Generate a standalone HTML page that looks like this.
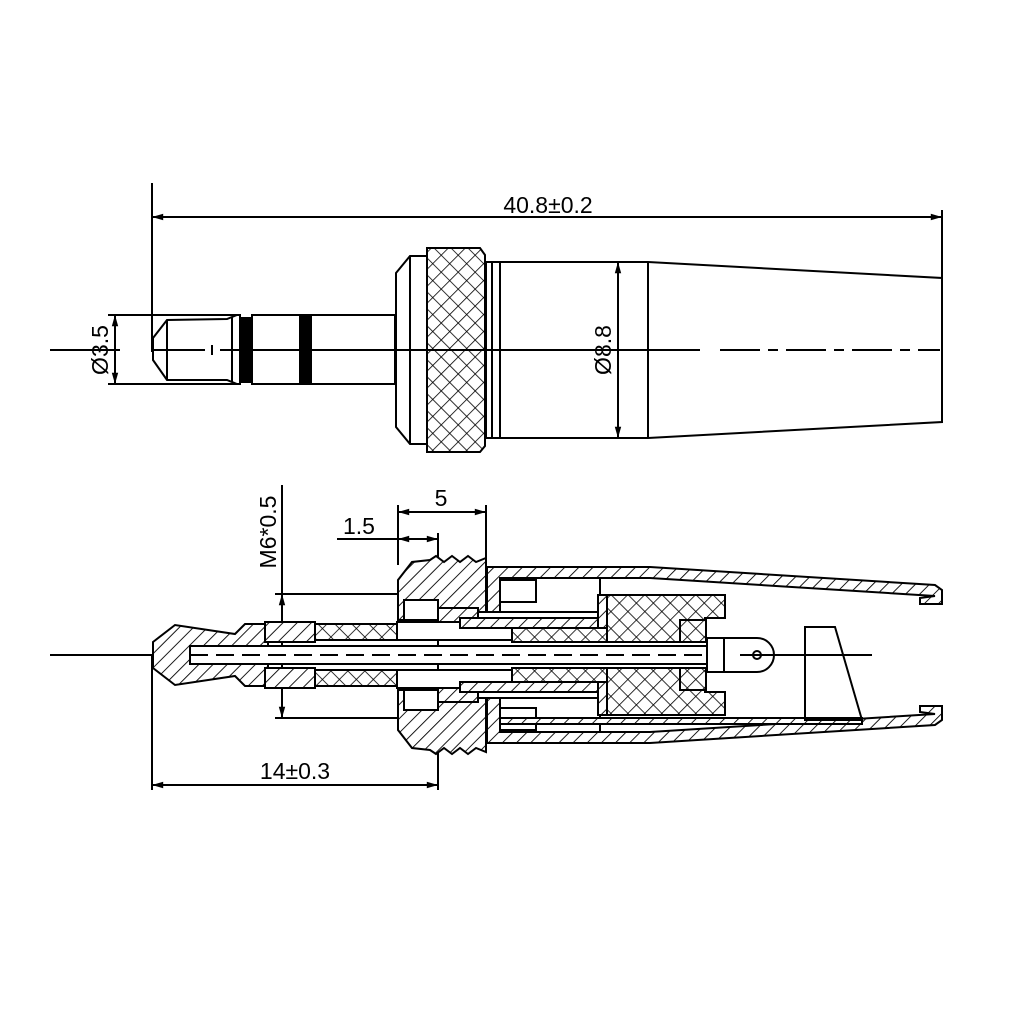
<!DOCTYPE html>
<html><head><meta charset="utf-8"><style>html,body{margin:0;padding:0;background:#fff}svg{display:block}</style></head>
<body>
<svg width="1024" height="1024" viewBox="0 0 1024 1024" xmlns="http://www.w3.org/2000/svg" font-family="Liberation Sans, sans-serif">
<defs>
<pattern id="h" width="10" height="10" patternUnits="userSpaceOnUse" patternTransform="rotate(45)"><rect width="10" height="10" fill="#fff"/><line x1="0" y1="0" x2="0" y2="10" stroke="#000" stroke-width="1.8"/></pattern>
<pattern id="x" width="12" height="12" patternUnits="userSpaceOnUse" patternTransform="rotate(45)"><rect width="12" height="12" fill="#fff"/><line x1="0" y1="0" x2="0" y2="12" stroke="#000" stroke-width="1.6"/><line x1="0" y1="0" x2="12" y2="0" stroke="#000" stroke-width="1.6"/></pattern>
<marker id="a" viewBox="0 0 14 10" refX="14" refY="5" markerWidth="14" markerHeight="8" orient="auto-start-reverse" markerUnits="userSpaceOnUse"><path d="M0,1 L14,5 L0,9 Z" fill="#000"/></marker>
</defs>
<g stroke="#000" stroke-width="2" fill="none">
<!-- TOP VIEW -->
<line x1="152" y1="183" x2="152" y2="352"/>
<line x1="942" y1="210" x2="942" y2="290"/>
<line x1="152" y1="217" x2="942" y2="217" marker-start="url(#a)" marker-end="url(#a)"/>
<line x1="108" y1="315" x2="240" y2="315"/>
<line x1="108" y1="384" x2="240" y2="384"/>
<line x1="115" y1="315" x2="115" y2="384" marker-start="url(#a)" marker-end="url(#a)"/>
<path d="M153,338 L167,320 L227,319 L237,315 L240,315 L240,384 L237,384 L227,380 L167,380 L153,360 Z" fill="#fff"/>
<line x1="167" y1="320" x2="167" y2="380"/>
<line x1="232" y1="317" x2="232" y2="382"/>
<rect x="240" y="318" width="12" height="64" fill="#000"/>
<rect x="252" y="315" width="143" height="69" fill="#fff"/>
<rect x="300" y="315" width="11" height="69" fill="#000"/>
<line x1="50" y1="350" x2="120" y2="350"/>
<line x1="153" y1="350" x2="205" y2="350"/>
<line x1="212" y1="345" x2="212" y2="355"/>
<line x1="220" y1="350" x2="395" y2="350"/>
<path d="M396,273 L410,256 L427,256 L427,444 L410,444 L396,427 Z" fill="#fff"/>
<line x1="410" y1="256" x2="410" y2="444"/>
<path d="M427,248 L480,248 L485,255 L485,446 L480,452 L427,452 Z" fill="url(#x)"/>
<rect x="486" y="262" width="6" height="176" fill="#fff"/>
<path d="M492,262 L648,262 L942,278 L942,422 L648,438 L492,438 Z" fill="#fff"/>
<line x1="648" y1="262" x2="648" y2="438"/>
<line x1="500" y1="262" x2="500" y2="438"/>
<line x1="396" y1="350" x2="700" y2="350"/>
<line x1="720" y1="350" x2="940" y2="350" stroke-dasharray="40,8,10,8"/>
<line x1="618" y1="262" x2="618" y2="438" marker-start="url(#a)" marker-end="url(#a)"/>
<!-- BOTTOM DIMENSIONS -->
<line x1="398" y1="505" x2="398" y2="565"/>
<line x1="486" y1="505" x2="486" y2="570"/>
<line x1="398" y1="512" x2="486" y2="512" marker-start="url(#a)" marker-end="url(#a)"/>
<line x1="438" y1="533" x2="438" y2="790"/>
<line x1="337" y1="539" x2="398" y2="539"/>
<line x1="398" y1="539" x2="438" y2="539" marker-start="url(#a)" marker-end="url(#a)"/>
<line x1="282" y1="485" x2="282" y2="594"/>
<line x1="282" y1="594" x2="282" y2="718" marker-start="url(#a)" marker-end="url(#a)"/>
<line x1="275" y1="594" x2="400" y2="594"/>
<line x1="275" y1="718" x2="400" y2="718"/>
<line x1="152" y1="655" x2="152" y2="790"/>
<line x1="152" y1="785" x2="438" y2="785" marker-start="url(#a)" marker-end="url(#a)"/>
<!-- SECTION -->
<line x1="50" y1="655" x2="155" y2="655"/>
<path d="M153,642 L175,625 L235,634 L245,624 L268,624 L268,686 L245,686 L235,676 L175,685 L153,668 Z" fill="url(#h)"/>
<rect x="190" y="646" width="530" height="18" fill="#fff"/>
<line x1="190" y1="655" x2="720" y2="655" stroke-dasharray="18,8"/>
<rect x="265" y="622" width="50" height="20" fill="url(#h)"/>
<rect x="265" y="668" width="50" height="20" fill="url(#h)"/>
<rect x="315" y="624" width="82" height="16" fill="url(#x)"/>
<rect x="315" y="670" width="82" height="16" fill="url(#x)"/>
<rect x="397" y="622" width="115" height="18" fill="#fff"/>
<rect x="397" y="670" width="115" height="18" fill="#fff"/>
<path d="M398,580 L412,562 L430,560 L436,556 L444,562 L452,556 L460,562 L468,556 L476,562 L486,558 L486,612 L438,612 L438,620 L398,620 Z" fill="url(#h)"/>
<path d="M398,690 L438,690 L438,698 L486,698 L486,752 L476,748 L468,754 L460,748 L452,754 L444,748 L436,754 L430,750 L412,748 L398,730 Z" fill="url(#h)"/>
<rect x="404" y="600" width="34" height="20" fill="#fff"/>
<rect x="404" y="690" width="34" height="20" fill="#fff"/>
<rect x="438" y="608" width="40" height="14" fill="url(#h)"/>
<rect x="438" y="688" width="40" height="14" fill="url(#h)"/>
<rect x="460" y="618" width="140" height="10" fill="url(#h)"/>
<rect x="460" y="682" width="140" height="10" fill="url(#h)"/>
<rect x="512" y="628" width="95" height="14" fill="url(#x)"/>
<rect x="512" y="668" width="95" height="14" fill="url(#x)"/>
<path d="M487,567 L650,567 L935,585 L942,590 L942,604 L920,604 L920,598 L935,596 L650,578 L500,578 L500,612 L487,612 Z" fill="url(#h)"/>
<path d="M487,743 L650,743 L935,725 L942,720 L942,706 L920,706 L920,712 L935,714 L650,732 L500,732 L500,698 L487,698 Z" fill="url(#h)"/>
<rect x="500" y="578" width="100" height="34" fill="#fff"/>
<rect x="500" y="698" width="100" height="34" fill="#fff"/>
<rect x="500" y="580" width="36" height="22" fill="#fff"/>
<rect x="500" y="708" width="36" height="22" fill="#fff"/>
<rect x="500" y="718" width="362" height="6" fill="url(#h)"/>
<path d="M598,595 L725,595 L725,618 L705,618 L705,642 L607,642 L607,628 L598,628 Z" fill="url(#x)"/>
<path d="M598,715 L725,715 L725,692 L705,692 L705,668 L607,668 L607,682 L598,682 Z" fill="url(#x)"/>
<rect x="598" y="595" width="9" height="33" fill="url(#h)"/>
<rect x="598" y="682" width="9" height="33" fill="url(#h)"/>
<rect x="680" y="620" width="26" height="22" fill="url(#x)"/>
<rect x="680" y="668" width="26" height="22" fill="url(#x)"/>
<path d="M707,638 L757,638 A17,17 0 0 1 757,672 L707,672 Z" fill="#fff"/>
<line x1="724" y1="638" x2="724" y2="672"/>
<circle cx="757" cy="655" r="4"/>
<line x1="740" y1="655" x2="872" y2="655"/>
<path d="M805,627 L835,627 L862,720 L805,720 Z" fill="none"/>
</g>
<g font-size="23" fill="#000">
<text x="548" y="213" text-anchor="middle">40.8±0.2</text>
<text x="441" y="506" text-anchor="middle">5</text>
<text x="359" y="534" text-anchor="middle">1.5</text>
<text x="295" y="779" text-anchor="middle">14±0.3</text>
<text transform="translate(108,350) rotate(-90)" text-anchor="middle">Ø3.5</text>
<text transform="translate(611,350) rotate(-90)" text-anchor="middle">Ø8.8</text>
<text transform="translate(276,532) rotate(-90)" text-anchor="middle">M6*0.5</text>
</g>
</svg>
</body></html>
